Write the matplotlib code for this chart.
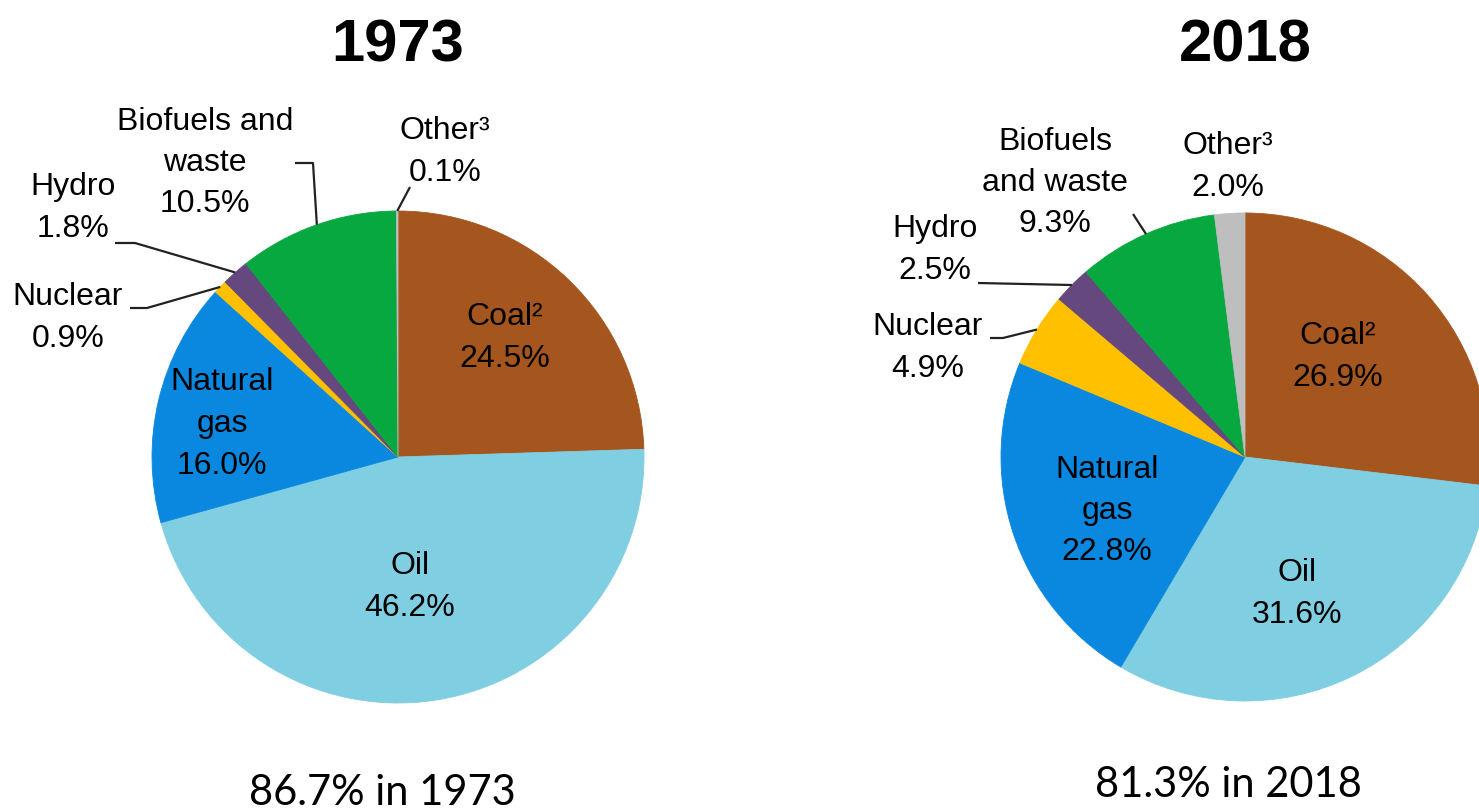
import numpy as np
import matplotlib
matplotlib.use("Agg")
import matplotlib.pyplot as plt

W, H = 1479, 810

# data
fuels = ["Coal²", "Oil", "Natural gas", "Nuclear", "Hydro", "Biofuels and waste", "Other³"]
share_1973 = [24.5, 46.2, 16.0, 0.9, 1.8, 10.5, 0.1]
share_2018 = [26.9, 31.6, 22.8, 4.9, 2.5, 9.3, 2.0]
names_1973 = ["Coal²", "Oil", "Natural\ngas", "Nuclear", "Hydro", "Biofuels and\nwaste", "Other³"]
names_2018 = ["Coal²", "Oil", "Natural\ngas", "Nuclear", "Hydro", "Biofuels\nand waste", "Other³"]
colors = ["#A5561E", "#80CEE1", "#0A88E0", "#FFC000", "#65497E", "#07A840", "#BEBEBE"]
notes = ["86.7% in 1973", "81.3% in 2018"]

sans = ["Liberation Sans", "DejaVu Sans"]

fig = plt.figure(figsize=(W / 100, H / 100), dpi=100)
ax = fig.add_axes([0, 0, 1, 1])


def Y(y):
    # pixel row -> data y (y axis points up)
    return H - y


def draw_pie(values, names, cx, cy, r, title, label_pos, leaders):
    wedges, _ = ax.pie(values, colors=colors, startangle=90, counterclock=False,
                       center=(cx, Y(cy)), radius=r,
                       wedgeprops=dict(linewidth=0.6))
    for w in wedges:
        w.set_edgecolor(w.get_facecolor())
    ax.text(cx, Y(62), title, ha="center", va="baseline", fontsize=43,
            fontweight="bold", family=sans)
    for i, (name, v) in enumerate(zip(names, values)):
        if i not in label_pos:
            continue
        tx, ty = label_pos[i]
        ax.text(tx, Y(ty), f"{name}\n{v:.1f}%", ha="center", va="center",
                fontsize=23, family=sans, linespacing=1.5)
    for i, pts in leaders.items():
        w = wedges[i]
        mid = np.deg2rad((w.theta1 + w.theta2) / 2)
        ex = cx + r * np.cos(mid)
        ey = Y(cy) + r * np.sin(mid)
        xs = [p[0] for p in pts] + [ex]
        ys = [Y(p[1]) for p in pts] + [ey]
        ax.plot(xs, ys, color="#222222", lw=1.6, solid_capstyle="butt")


draw_pie(share_1973, names_1973, 398, 457, 246, "1973",
         {0: (505, 338), 1: (410, 587), 2: (222, 424), 3: (68, 318),
          4: (73, 208), 5: (205, 163), 6: (445, 152)},
         {3: [(130, 308), (147, 308)], 4: [(115, 243), (135, 243)],
          5: [(295, 163), (313, 163)], 6: [(410, 187)]})

draw_pie(share_2018, names_2018, 1245, 457, 244, "2018",
         {0: (1338, 357), 1: (1297, 594), 2: (1107, 511), 3: (928, 348),
          4: (935, 250), 5: (1055, 183), 6: (1228, 167)},
         {3: [(990, 338), (1003, 338)], 4: [(978, 283)],
          5: [(1133, 214)]})

ax.text(382, Y(805), notes[0], ha="center", va="baseline", fontsize=30, family="Lato")
ax.text(1228, Y(797), notes[1], ha="center", va="baseline", fontsize=30, family="Lato")

ax.set_xlim(0, W)
ax.set_ylim(0, H)
ax.set_aspect("equal")
ax.axis("off")

fig.savefig("out.png", dpi=100)
